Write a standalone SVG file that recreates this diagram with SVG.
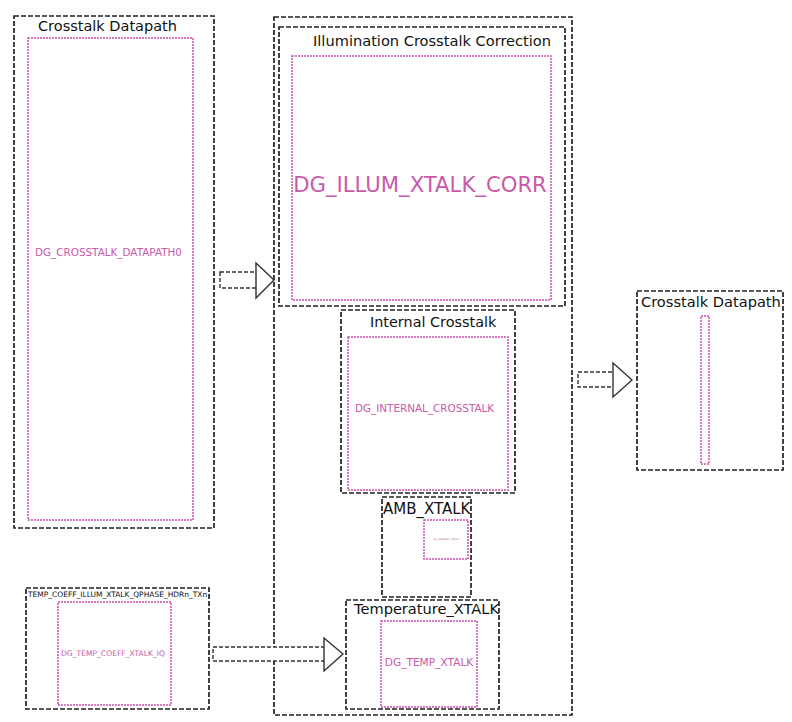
<svg xmlns="http://www.w3.org/2000/svg" width="792" height="722" viewBox="0 0 792 722">
<style>
.frame{fill:none;stroke:#222;stroke-width:1.7;stroke-dasharray:5,2}
.inner{fill:#fff;stroke:#d04fb0;stroke-width:1.5;stroke-dasharray:2,1}
.t{font-family:"DejaVu Sans",sans-serif;fill:#111}
.p{font-family:"DejaVu Sans",sans-serif;fill:#c85aa8}
.arr{fill:#fff;stroke:#333;stroke-width:1.4;stroke-dasharray:4,2}
.head{fill:#fff;stroke:#333;stroke-width:1.4}
</style>
<rect width="792" height="722" fill="#fff"/>
<g id="left-datapath">
<rect class="frame" x="14" y="16" width="200" height="512"/>
<text class="t" x="38" y="31" font-size="14.5">Crosstalk Datapath</text>
<rect class="inner" x="28" y="38" width="165" height="482"/>
<text class="p" x="35" y="256" font-size="10.4">DG_CROSSTALK_DATAPATH0</text>
</g>
<g id="outer-middle">
<rect class="frame" x="274" y="17" width="298" height="698"/>
</g>
<g id="illum">
<rect class="frame" x="279" y="27" width="286" height="279"/>
<text class="t" x="313" y="46" font-size="14.6">Illumination Crosstalk Correction</text>
<rect class="inner" x="292" y="56" width="259" height="244"/>
<text class="p" x="420" y="192" font-size="21.2" text-anchor="middle">DG_ILLUM_XTALK_CORR</text>
</g>
<g id="internal">
<rect class="frame" x="341" y="310" width="174" height="183"/>
<text class="t" x="370" y="327" font-size="14.4">Internal Crosstalk</text>
<rect class="inner" x="348" y="337" width="160" height="153"/>
<text class="p" x="355" y="412" font-size="10.4">DG_INTERNAL_CROSSTALK</text>
</g>
<g id="amb">
<rect class="frame" x="382" y="497" width="89" height="100"/>
<text class="t" x="383" y="514" font-size="15">AMB_XTALK</text>
<rect class="inner" x="424" y="520" width="44" height="39"/>
<text class="p" x="446" y="540" font-size="2.5" text-anchor="middle">DG_AMBIENT_XTALK</text>
</g>
<g id="temp-xtalk">
<rect class="frame" x="346" y="600" width="153" height="109"/>
<text class="t" x="354" y="614" font-size="14.6">Temperature_XTALK</text>
<rect class="inner" x="381" y="621" width="96" height="86"/>
<text class="p" x="429" y="666" font-size="10.6" text-anchor="middle">DG_TEMP_XTALK</text>
</g>
<g id="temp-coeff">
<rect class="frame" x="26" y="588" width="183" height="121"/>
<text class="t" x="28" y="597" font-size="7.5">TEMP_COEFF_ILLUM_XTALK_QPHASE_HDRn_TXn</text>
<rect class="inner" x="58" y="602" width="113" height="103"/>
<text class="p" x="113" y="656" font-size="7.6" text-anchor="middle">DG_TEMP_COEFF_XTALK_IQ</text>
</g>
<g id="right-datapath">
<rect class="frame" x="637" y="291" width="146" height="179"/>
<text class="t" x="641" y="307" font-size="14.6">Crosstalk Datapath</text>
<rect class="inner" x="701" y="316" width="8" height="148"/>
</g>
<g id="connectors">
<rect class="arr" x="220" y="272" width="37" height="16"/>
<polygon class="head" points="256,263 274,280 256,298"/>
<rect class="arr" x="578" y="372" width="36" height="15"/>
<polygon class="head" points="613,363 632,380 613,397"/>
<rect class="arr" x="213" y="647" width="112" height="14"/>
<polygon class="head" points="324,638 343,654 324,671"/>
</g>
</svg>
